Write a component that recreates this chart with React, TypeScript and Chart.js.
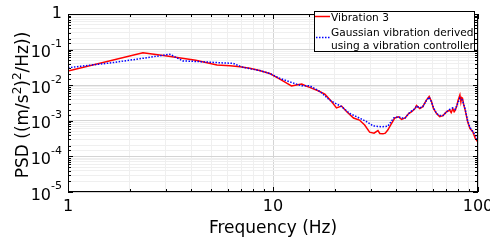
import React, { useEffect, useRef } from "react";
import { Chart, registerables } from "chart.js";

Chart.register(...registerables);

// ---- data ----
const vib3Freq = [1, 2.32, 3.04, 4.2, 5.33, 6.17, 6.9, 7.7, 8.6, 9.7, 10.8, 11.5, 12.3, 13.0, 13.8, 14.5, 15.1, 16.6, 17.9, 19.3, 20.4, 21.6, 22.9, 24.7, 26.4, 28, 29.6, 31.1, 32.5, 33.2, 34.4, 35.3, 36.3, 37.9, 39.3, 40.9, 42.4, 44.1, 45.9, 47.5, 49.3, 50.1, 52, 53.8, 56, 57.8, 59.3, 60.7, 62.8, 65, 67.5, 70.3, 72.8, 74, 75.4, 76.5, 77.5, 78.8, 80, 81.6, 82.5, 83.2, 84, 85.2, 86.6, 89, 91.4, 94.2, 97, 99.5, 100];
const vib3Psd = [0.025, 0.082, 0.066, 0.05, 0.037, 0.035, 0.033, 0.03, 0.026, 0.021, 0.0149, 0.012, 0.0095, 0.0102, 0.0108, 0.0095, 0.0087, 0.007, 0.0056, 0.0035, 0.0023, 0.0026, 0.0018, 0.0012, 0.00105, 0.00076, 0.00048, 0.00045, 0.00053, 0.00044, 0.00043, 0.00045, 0.00055, 0.00085, 0.0012, 0.0013, 0.0011, 0.0012, 0.0016, 0.0018, 0.0022, 0.0027, 0.0022, 0.0025, 0.0038, 0.0048, 0.0035, 0.0022, 0.0016, 0.0013, 0.0014, 0.0018, 0.002, 0.0017, 0.0022, 0.0018, 0.002, 0.0026, 0.0038, 0.0053, 0.0034, 0.0045, 0.0043, 0.0028, 0.002, 0.00095, 0.0006, 0.0005, 0.00032, 0.00026, 0.00024];

const gaussFreq = [1, 1.6, 2.32, 3.14, 3.64, 4.4, 5.4, 6.4, 7.0, 7.7, 8.6, 9.7, 10.8, 12.3, 13.8, 15.1, 17, 18.9, 21.6, 23.7, 25.6, 28.6, 30.8, 33.8, 36.3, 38.8, 40.9, 42.4, 44.1, 45.9, 47.5, 49.3, 50.1, 52, 53.8, 56, 57.8, 59.3, 60.7, 62.8, 65, 67.5, 70.3, 72.8, 75.4, 77.5, 80, 81.6, 84, 86.6, 89, 91.4, 94.2, 97, 100];
const gaussPsd = [0.031, 0.042, 0.057, 0.074, 0.048, 0.046, 0.043, 0.041, 0.033, 0.029, 0.026, 0.021, 0.0155, 0.012, 0.0096, 0.0096, 0.0066, 0.0038, 0.0025, 0.0016, 0.0013, 0.00095, 0.00072, 0.00068, 0.0007, 0.0012, 0.0013, 0.0012, 0.0012, 0.0016, 0.0019, 0.0022, 0.0026, 0.0023, 0.0025, 0.0037, 0.0046, 0.0034, 0.0023, 0.0016, 0.0014, 0.0014, 0.0018, 0.0021, 0.0023, 0.0021, 0.0033, 0.0043, 0.0038, 0.0021, 0.001, 0.00065, 0.0005, 0.0004, 0.00028];

const seriesNames = ["Vibration 3", "Gaussian vibration derived using a vibration controller"];
const legendLines = [["Vibration 3"], ["Gaussian vibration derived", "using a vibration controller"]];

const xTickValues = [1, 10, 100];
const xTickLabels = ["1", "10", "100"];
const yTickValues = [1e-5, 1e-4, 1e-3, 1e-2, 1e-1, 1];
const yTickBases = ["10", "10", "10", "10", "10", "1"];
const yTickExps = ["-5", "-4", "-3", "-2", "-1", ""];

const xTitle = "Frequency (Hz)";
// y title pieces: [text, isSuperscript]
const yTitleParts: [string, boolean][] = [
  ["PSD ((m/s", false],
  ["2", true],
  [")", false],
  ["2", true],
  ["/Hz))", false],
];

const FONT = '"DejaVu Sans", sans-serif';

const isMajor = (v: number) => {
  const l = Math.log10(v);
  return Math.abs(l - Math.round(l)) < 1e-9;
};

const overlay = {
  id: "overlay",
  afterDatasetsDraw(chart: any) {
    const { ctx, chartArea: a, scales } = chart;
    const xs = scales.x;
    const ys = scales.y;
    ctx.save();
    ctx.strokeStyle = "#000";
    ctx.lineWidth = 1;
    ctx.beginPath();
    for (const t of xs.ticks) {
      const px = Math.round(xs.getPixelForValue(t.value)) + 0.5;
      const len = isMajor(t.value) ? 5 : 3;
      ctx.moveTo(px, a.bottom);
      ctx.lineTo(px, a.bottom - len);
      ctx.moveTo(px, a.top);
      ctx.lineTo(px, a.top + len);
    }
    for (const t of ys.ticks) {
      const py = Math.round(ys.getPixelForValue(t.value)) + 0.5;
      const len = isMajor(t.value) ? 5 : 3;
      ctx.moveTo(a.left, py);
      ctx.lineTo(a.left + len, py);
      ctx.moveTo(a.right, py);
      ctx.lineTo(a.right - len, py);
    }
    ctx.stroke();
    ctx.strokeRect(a.left + 0.5, a.top + 0.5, a.right - a.left - 1, a.bottom - a.top - 1);

    ctx.fillStyle = "#000";
    // x tick labels
    ctx.font = `16px ${FONT}`;
    ctx.textAlign = "center";
    ctx.textBaseline = "middle";
    xTickValues.forEach((v, i) => {
      ctx.fillText(xTickLabels[i], xs.getPixelForValue(v), a.bottom + 15);
    });
    // y tick labels
    yTickValues.forEach((v, i) => {
      const py = ys.getPixelForValue(v);
      const right = a.left - 6;
      const exp = yTickExps[i];
      ctx.textBaseline = "middle";
      ctx.textAlign = "left";
      if (exp) {
        ctx.font = `11px ${FONT}`;
        const ew = ctx.measureText(exp).width;
        ctx.font = `16px ${FONT}`;
        const bw = ctx.measureText(yTickBases[i]).width;
        ctx.fillText(yTickBases[i], right - ew - bw, py + 3.5);
        ctx.font = `11px ${FONT}`;
        ctx.fillText(exp, right - ew, py - 5.5);
      } else {
        ctx.font = `16px ${FONT}`;
        const bw = ctx.measureText(yTickBases[i]).width;
        ctx.fillText(yTickBases[i], right - bw, py);
      }
    });
    // x title
    ctx.font = `17px ${FONT}`;
    ctx.textAlign = "center";
    ctx.textBaseline = "alphabetic";
    ctx.fillText(xTitle, (a.left + a.right) / 2, 233);
    // y title (rotated)
    ctx.save();
    ctx.translate(28, 105);
    ctx.rotate(-Math.PI / 2);
    ctx.textAlign = "left";
    ctx.textBaseline = "alphabetic";
    let total = 0;
    const widths = yTitleParts.map(([s, sup]) => {
      ctx.font = `${sup ? 12 : 17}px ${FONT}`;
      const w = ctx.measureText(s).width;
      total += w;
      return w;
    });
    let cx = -total / 2;
    yTitleParts.forEach(([s, sup], i) => {
      ctx.font = `${sup ? 12 : 17}px ${FONT}`;
      ctx.fillText(s, cx, sup ? -7 : 0);
      cx += widths[i];
    });
    ctx.restore();
    ctx.restore();
  },
  afterDraw(chart: any) {
    const { ctx } = chart;
    const ds = chart.data.datasets;
    ctx.save();
    const bx = 314, by = 11, bw = 161, bh = 41;
    ctx.fillStyle = "#fff";
    ctx.fillRect(bx, by, bw, bh);
    ctx.strokeStyle = "#000";
    ctx.lineWidth = 1;
    ctx.strokeRect(bx + 0.5, by + 0.5, bw - 1, bh - 1);
    ctx.font = `10.6px ${FONT}`;
    ctx.fillStyle = "#000";
    ctx.textAlign = "left";
    ctx.textBaseline = "alphabetic";
    // entry 1
    const red = ds.find((d: any) => d.label === seriesNames[0]);
    const blue = ds.find((d: any) => d.label === seriesNames[1]);
    ctx.strokeStyle = red.borderColor;
    ctx.lineWidth = 1.5;
    ctx.beginPath();
    ctx.moveTo(315, 16.5);
    ctx.lineTo(330, 16.5);
    ctx.stroke();
    ctx.fillText(legendLines[0][0], 331, 20.5);
    ctx.strokeStyle = blue.borderColor;
    ctx.setLineDash(blue.borderDash);
    ctx.beginPath();
    ctx.moveTo(316, 37.5);
    ctx.lineTo(330, 37.5);
    ctx.stroke();
    ctx.setLineDash([]);
    ctx.fillText(legendLines[1][0], 331, 35.5);
    ctx.fillText(legendLines[1][1], 331, 49);
    ctx.restore();
  },
};

export default function App() {
  const ref = useRef<HTMLCanvasElement | null>(null);
  useEffect(() => {
    document.body.style.margin = "0";
    if (!ref.current) return;
    const chart = new Chart(ref.current, {
      type: "line",
      data: {
        datasets: [
          {
            label: seriesNames[0],
            data: vib3Freq.map((f, i) => ({ x: f, y: vib3Psd[i] })),
            borderColor: "#ff0000",
            borderWidth: 1.5,
            pointRadius: 0,
            tension: 0,
            fill: false,
            order: 1,
          },
          {
            label: seriesNames[1],
            data: gaussFreq.map((f, i) => ({ x: f, y: gaussPsd[i] })),
            borderColor: "#0000ff",
            borderWidth: 1.5,
            borderDash: [1.5, 1.5],
            pointRadius: 0,
            tension: 0,
            fill: false,
            order: 0,
          },
        ],
      },
      options: {
        animation: false,
        responsive: false,
        devicePixelRatio: 1,
        layout: { padding: { left: 68, right: 12, top: 14, bottom: 48 } },
        plugins: { legend: { display: false }, tooltip: { enabled: false } },
        scales: {
          x: {
            type: "logarithmic",
            min: 1,
            max: 100,
            ticks: { display: false },
            border: { display: false },
            grid: {
              drawTicks: false,
              color: (c: any) => (c.tick && isMajor(c.tick.value) ? "#d4d4d4" : "#efefef"),
            },
          },
          y: {
            type: "logarithmic",
            min: 1e-5,
            max: 1,
            ticks: { display: false },
            border: { display: false },
            grid: {
              drawTicks: false,
              color: (c: any) => (c.tick && isMajor(c.tick.value) ? "#d4d4d4" : "#efefef"),
            },
          },
        },
      },
      plugins: [overlay],
    });
    return () => chart.destroy();
  }, []);
  return <canvas ref={ref} width={490} height={240} style={{ display: "block" }} />;
}
